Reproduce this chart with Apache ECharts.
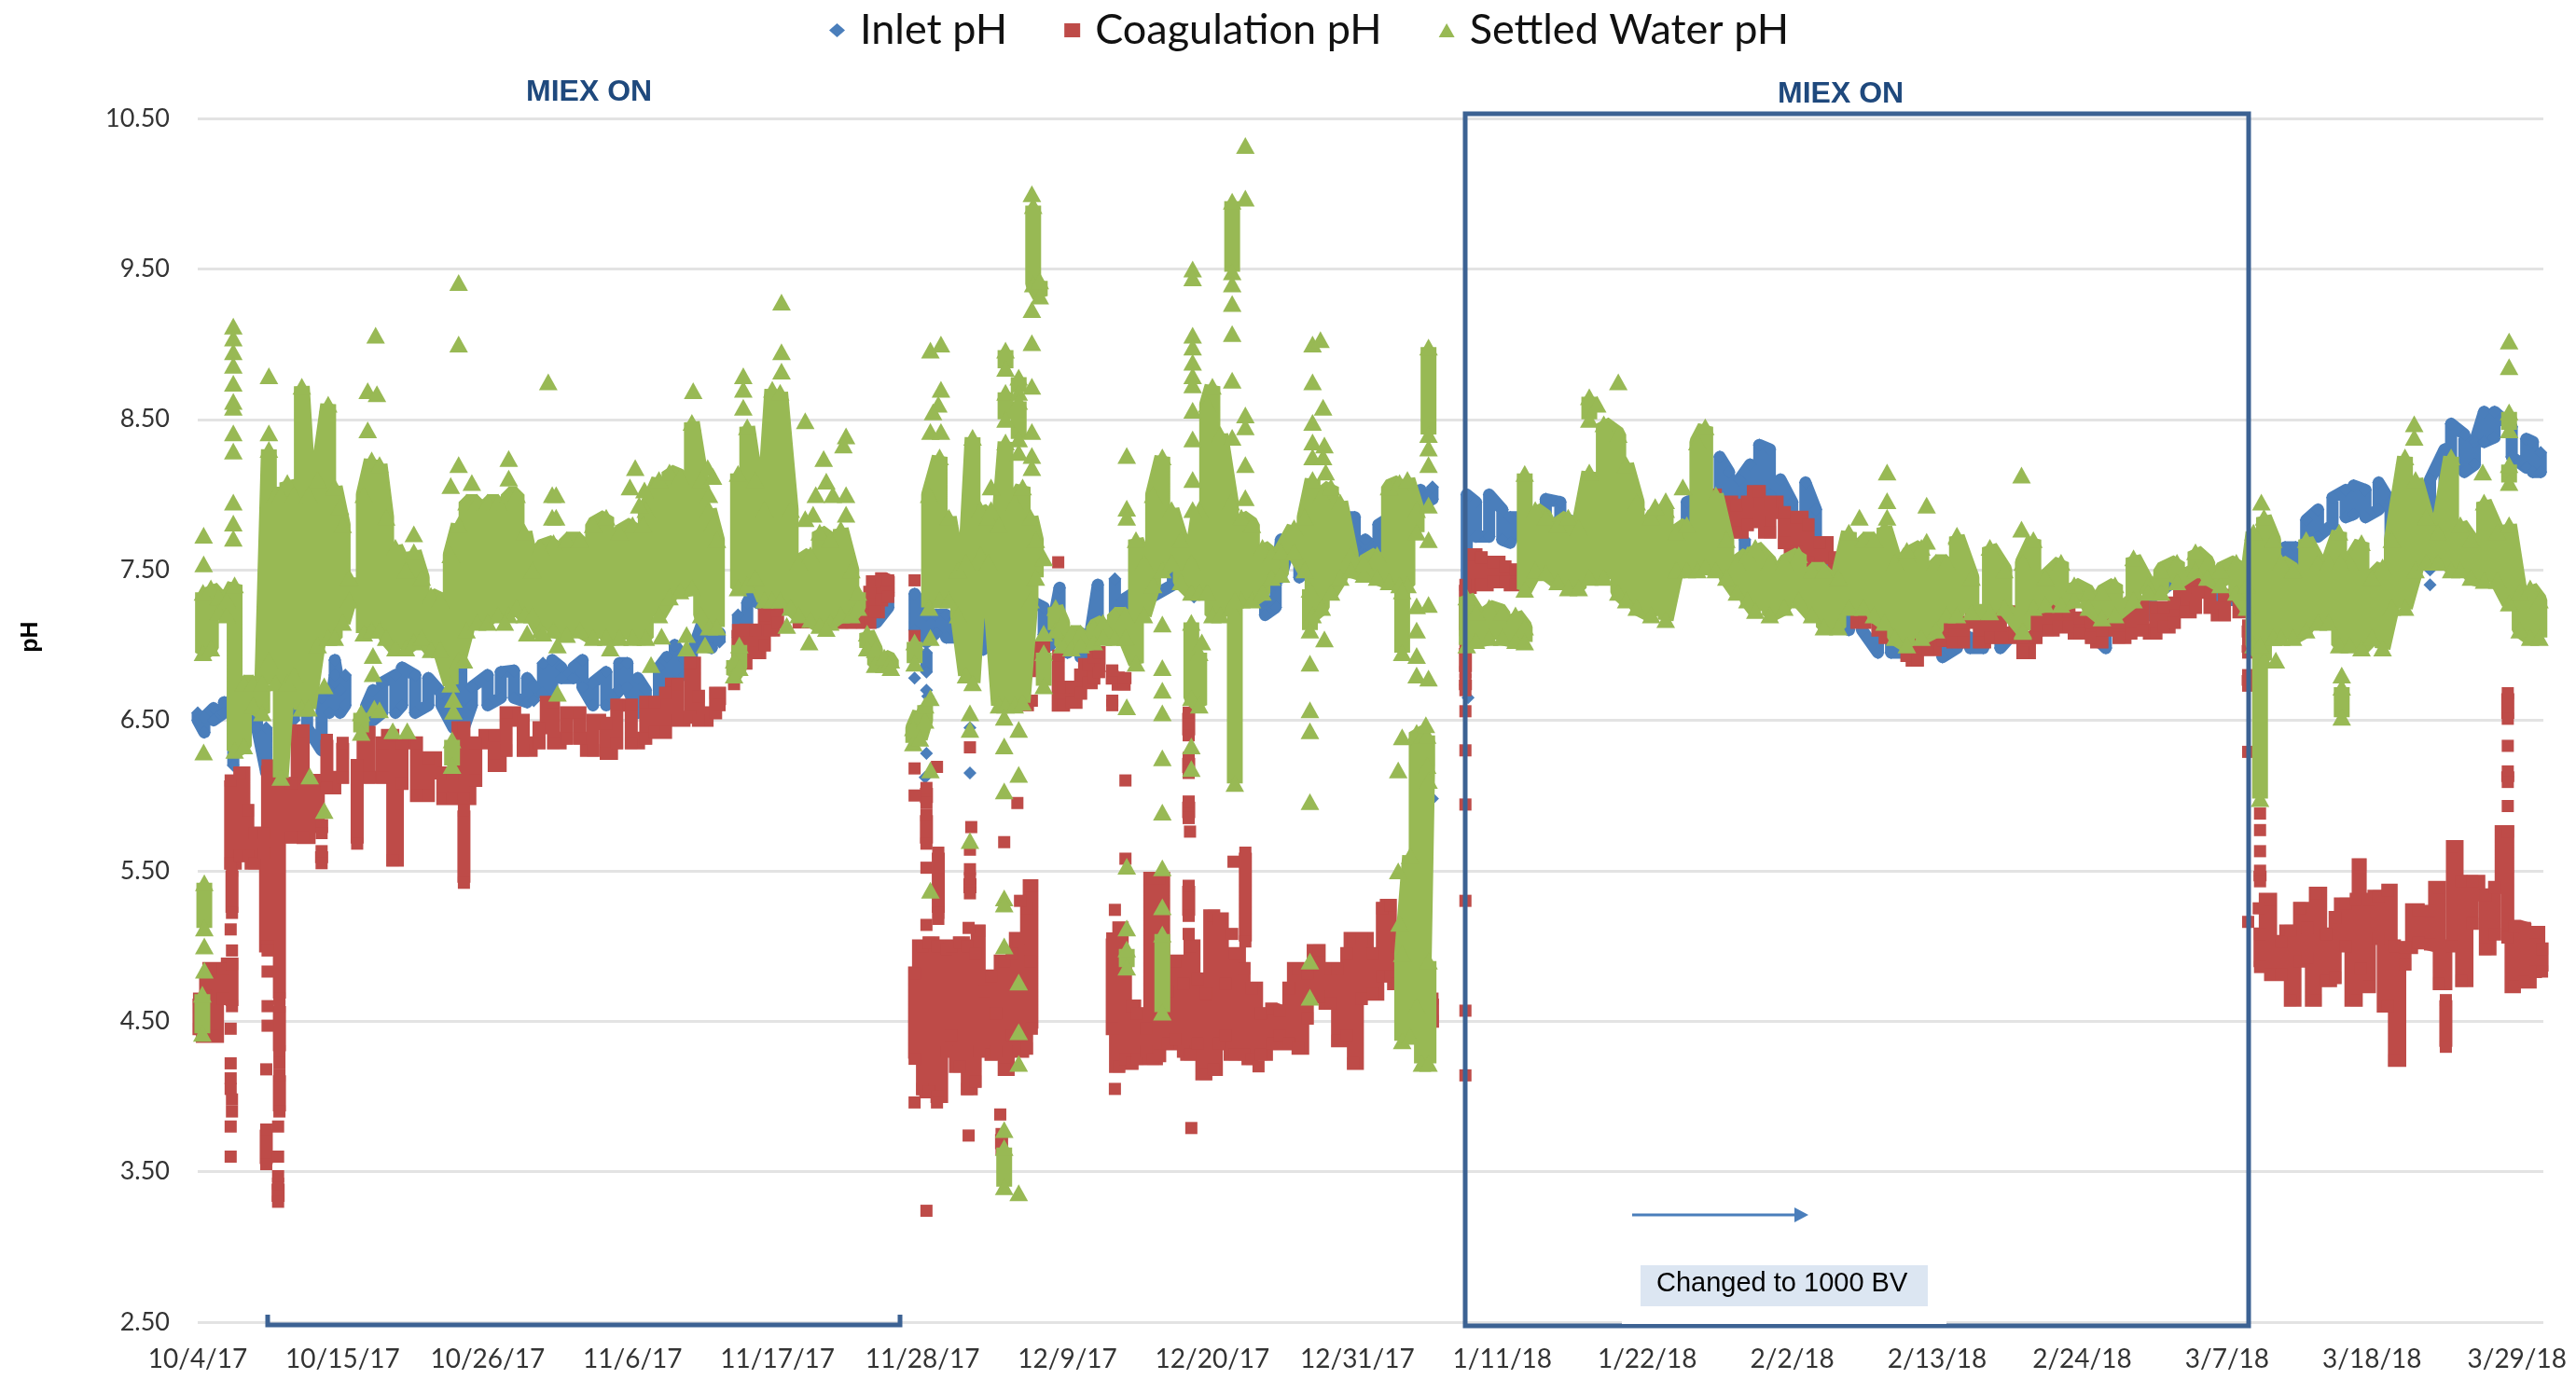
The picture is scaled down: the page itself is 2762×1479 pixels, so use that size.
<!DOCTYPE html>
<html><head><meta charset="utf-8">
<style>html,body{margin:0;padding:0;background:#fff}#c{width:2762px;height:1479px}</style>
<script src="https://cdn.jsdelivr.net/npm/echarts@6/dist/echarts.min.js"></script>
</head><body><div id="c"></div>
<script>
// x values are days since 10/4/17; each band row is [day, high pH, low pH]; null = a gap in the record
const tickLabels = ['10/4/17','10/15/17','10/26/17','11/6/17','11/17/17','11/28/17','12/9/17','12/20/17','12/31/17','1/11/18','1/22/18','2/2/18','2/13/18','2/24/18','3/7/18','3/18/18','3/29/18'];

const inletBands = [
[0,6.55,6.5],[0.5,6.52,6.42],[1.2,6.58,6.5],[2,6.62,6.55],[2.7,6.6,6.2],null,[4.5,6.62,6.45],[5.2,6.45,6.15],null,
[7.3,6.68,6.5],[8.3,6.55,6.45],[9.4,6.65,6.3],[10,6.7,6.55],[10.4,6.9,6.8],[10.8,6.7,6.55],[11.2,6.8,6.6],null,
[12.8,6.6,6.4],[13.3,6.7,6.5],[14,6.75,6.55],[15,6.8,6.55],[15.5,6.85,6.6],[16.5,6.8,6.55],[17.5,6.78,6.6],[18.5,6.68,6.6],[19.4,6.75,6.45],[20,6.85,6.4],[20.8,6.72,6.6],[22,6.8,6.6],[23,6.82,6.65],[24,6.83,6.65],[25,6.78,6.62],[25.5,6.72,6.63],null,
[26.2,6.88,6.68],[26.9,6.9,6.65],[27.6,6.85,6.78],[28.5,6.85,6.78],[29.2,6.9,6.72],[30,6.75,6.6],[31,6.82,6.6],[32,6.88,6.7],[32.6,6.88,6.72],[33.4,6.78,6.55],[34,6.7,6.55],[35,6.85,6.6],[35.6,6.92,6.62],[36.2,7.0,6.75],[37,6.9,6.8],[37.5,6.95,6.9],[38.3,7.15,7.0],[39,7.05,6.98],[39.6,7.08,7.02],null,
[41,7.2,7.05],[41.7,7.28,7.1],[42.5,7.42,7.28],[43,7.35,7.3],[45,7.38,7.3],[47,7.35,7.3],[49,7.3,7.25],[50.5,7.22,7.2],[51.5,7.25,7.15],[52.4,7.35,7.25],null,
[54.4,7.34,7.1],[55.3,7.2,7.02],[56,7.2,7.08],[56.8,7.2,7.05],[58,7.15,7.05],[59.6,7.17,6.97],[60,7.15,7.0],null,
[63.1,7.3,6.95],[64.2,7.25,7.07],[64.7,7.05,7.0],[65.4,7.38,7.05],[66,7.0,6.95],[67,7.08,6.92],[67.6,7.0,6.9],[68.3,7.4,7.1],null,[69.6,7.44,7.15],[70.2,7.3,7.15],[72,7.4,7.3],[74,7.5,7.4],[75.5,7.6,7.55],[77,7.5,7.4],[78.5,7.4,7.4],[80,7.35,7.3],[81,7.3,7.2],[81.8,7.4,7.25],[82.2,7.7,7.45],[83,7.75,7.7],[83.6,7.65,7.45],[85,7.7,7.6],[86.5,7.7,7.6],[87,7.85,7.65],[87.8,7.85,7.65],[88.6,7.7,7.6],[89.2,7.65,7.6],[89.6,7.8,7.6],[90.5,7.85,7.7],[92,8.0,7.85],[92.8,8.03,7.93],[93.7,8.05,7.97],null,
[96.3,8.0,7.3],[97,7.95,7.72],[98,8.0,7.72],[99,7.9,7.7],[99.6,7.85,7.68],[100.5,7.85,7.7],[102.3,7.97,7.85],[103.4,7.95,7.85],[105,7.9,7.8],[108,7.8,7.7],[110,7.78,7.7],[112,7.75,7.7],[113,7.95,7.8],[114.5,8.0,7.9],[115.5,8.25,7.9],[116.2,8.15,7.95],[117,8.1,7.95],[117.8,8.2,8.0],[118.5,8.33,8.0],[119.3,8.3,8.0],[120.1,8.1,7.9],[121,7.95,7.85],[122,8.08,7.8],[122.8,7.9,7.6],[123.6,7.55,7.45],[124.5,7.35,7.3],[125.3,7.25,7.1],[126.3,7.2,7.1],[127.5,7.1,6.95],[128.5,7.05,6.95],[130.5,6.95,6.95],[132.4,7.05,6.92],[133.5,7.05,6.98],[134.5,7.05,6.98],[135.5,7.05,6.98],[136.8,7.05,6.98],[138,7.2,7.1],[140,7.2,7.1],[142,7.2,7.15],[144,7.1,7.05],[144.8,7.1,6.98],[146,7.2,7.1],[148,7.3,7.2],[150.4,7.45,7.3],[151.6,7.5,7.35],[153,7.4,7.3],[155,7.35,7.3],null,
[156.5,7.6,7.45],[157.5,7.7,7.5],[158.4,7.65,7.48],[159.2,7.65,7.45],[160,7.83,7.6],[160.9,7.9,7.72],[162,7.98,7.8],[163,8.03,7.85],[163.6,8.06,7.87],[164.5,8.03,7.85],[165.5,8.08,7.9],[166.4,7.95,7.7],[167,7.9,7.7],[168.5,8.0,7.8],[169.4,8.1,7.6],[170.5,8.3,7.9],[171,8.47,8.05],[172,8.4,8.15],[172.8,8.35,8.2],[173.5,8.55,8.35],[174.3,8.55,8.38],[175.6,8.45,8.25],[176.7,8.37,8.18],[177.2,8.35,8.15],[177.8,8.28,8.15],null,
[55.3,6.95,6.82],null,[117.4,7.7,7.6]
];
const inletSpots = [[54.4,6.78],[55.3,6.7],[55.4,6.66],[55.3,6.28],[55.2,6.12],[58.6,6.45],[58.6,6.15],[93.7,5.98],[96.4,6.65],[117.4,7.4],[162.6,7.0],[169.4,7.4],[169.4,7.5],[45.3,7.48],[75.6,7.32]];

const coagBands = [
[0.1,4.65,4.45],[0.6,4.75,4.4],[1.1,4.85,4.4],[1.9,4.85,4.65],[2.6,4.88,4.6],null,
[2.6,5.5,5.22],null,
[2.5,6.1,5.55],[3.2,6.15,5.6],[3.8,5.9,5.6],[4.3,5.75,5.55],[5,5.75,5.62],[5.3,6.2,5.0],null,
[5.2,3.78,3.55],null,
[6.2,6.1,4.65],null,[6.2,4.6,4.3],null,[6.2,4.14,3.9],null,[6.1,3.42,3.3],null,
[7.1,6.08,5.72],[8,6.43,5.72],[8.9,6.1,5.8],[9.4,5.8,5.75],null,[9.4,5.63,5.55],null,[9.8,6.37,6.05],[11,6.35,6.12],null,
[12.1,6.2,5.68],[13,6.42,6.12],[14,6.35,6.12],[14.8,6.4,5.57],[15.5,6.35,6.08],[16.6,6.35,6.0],[17.5,6.25,6.0],[18.6,6.15,5.98],[19.3,6.15,5.98],[20.2,6.45,5.98],[21.1,6.35,6.1],[22.5,6.4,6.2],[23.4,6.55,6.3],[24.7,6.5,6.3],[25.9,6.45,6.35],[27,6.62,6.35],[28,6.55,6.38],[29,6.55,6.38],[30,6.5,6.3],[31,6.48,6.28],[31.8,6.6,6.35],[32.9,6.6,6.35],[34,6.62,6.38],[34.7,6.62,6.42],[35.5,6.68,6.42],[36.4,6.74,6.5],[37.4,6.88,6.52],[38,6.66,6.5],[39.3,6.68,6.55],[39.6,6.68,6.6],null,
[20.2,5.9,5.42],null,
[41,7.1,6.9],[41.6,7.1,6.88],[42.3,7.1,6.95],[43,7.2,7.0],[43.4,7.27,7.1],[44,7.28,7.15],null,
[45.6,7.22,7.15],[46.5,7.22,7.15],null,
[48.9,7.2,7.15],[49.6,7.22,7.15],[50.4,7.28,7.15],[51,7.35,7.15],[51.4,7.42,7.22],[51.9,7.44,7.3],[52.4,7.43,7.32],null,
[62.9,6.98,6.83],[63.5,6.98,6.83],[64.2,6.98,6.83],null,
[65.3,6.93,6.6],[65.7,6.72,6.6],[66.3,6.72,6.62],[67,6.8,6.68],[67.6,6.87,6.75],[68,6.92,6.78],[68.4,6.95,6.82],null,[69.4,6.83,6.78],[70.3,6.78,6.74],null,
[54.4,4.82,4.25],[55,5.0,4.05],[55.5,5.02,4.03],[56.1,5.0,4.0],[56.8,4.98,4.3],[57.2,5.0,4.4],[57.8,5.02,4.2],[58.4,5.0,4.05],[59,4.95,4.1],[59.3,5.1,4.3],[59.7,4.7,4.3],[60.2,4.8,4.28],[60.6,4.55,4.3],[61.2,4.9,4.18],[61.8,4.95,4.4],[62.3,5.05,4.3],[62.9,5.25,4.32],[63.3,5.4,4.45],null,
[69.4,5.05,4.45],[69.9,5.12,4.2],[70.4,4.9,4.25],[70.9,4.6,4.22],[71.3,4.55,4.25],[72,4.45,4.3],[72.5,5.45,4.25],[73,5.45,4.27],[73.6,4.7,4.35],[74.2,4.9,4.38],[74.8,4.75,4.3],[75.3,5.0,4.28],[75.9,4.78,4.35],[76.5,4.68,4.15],[77.1,5.2,4.18],[77.5,5.18,4.35],[78,4.75,4.4],[78.7,4.95,4.28],[79.4,4.85,4.28],[80,4.72,4.25],[80.7,4.55,4.28],[81.5,4.58,4.35],[82.1,4.57,4.4],[82.8,4.72,4.35],[83.5,4.85,4.32],[84.2,4.82,4.52],[85.1,4.97,4.66],[86,4.85,4.62],[86.5,4.85,4.37],[87.2,4.95,4.4],[87.7,5.05,4.22],[88.3,5.05,4.65],[89.2,4.95,4.68],[89.9,5.25,4.8],[90.5,5.27,4.8],[91,5.0,4.75],[92,4.9,4.7],[93.7,4.65,4.5],null,
[55.3,6.05,5.95],null,[55.3,5.87,5.68],null,[56.2,5.62,5.22],null,[58.6,5.45,5.35],null,[63.2,5.4,4.9],null,[61,3.75,3.65],null,[75.2,6.55,6.4],null,[75.2,6.25,6.15],null,[75.2,5.96,5.85],null,[75.2,5.4,5.2],null,[79.5,5.62,5.03],null,
[96.6,7.6,7.38],[97.4,7.58,7.4],[98.3,7.55,7.42],[99.2,7.52,7.42],[100,7.5,7.4],[100.9,7.45,7.42],null,
[96.2,7.4,7.1],null,[96.2,6.98,6.82],null,[96.2,6.77,6.7],null,
[115.2,8.0,7.75],[116,7.95,7.75],[116.8,7.93,7.75],[117.6,7.95,7.8],[118.5,8.02,7.82],[119.3,7.95,7.75],[120.4,7.88,7.68],[121.3,7.85,7.62],[122.2,7.8,7.55],[123.1,7.68,7.5],[124.2,7.58,7.47],null,
[125.3,7.35,7.25],[126.5,7.25,7.15],[127.5,7.3,7.1],[128.6,7.2,7.05],[129.7,7.05,6.93],[130.5,7.03,6.9],[131.3,7.08,6.97],[132.4,7.12,7.03],[133.2,7.15,7.02],[134,7.15,7.02],[135.2,7.2,7.02],[136,7.2,7.05],[136.8,7.2,7.05],[137.9,7.22,7.08],[138.5,7.05,6.95],[139.5,7.25,7.05],[140.4,7.25,7.1],[141.2,7.25,7.12],[142,7.22,7.12],[142.8,7.18,7.08],[143.7,7.15,7.05],[144.5,7.1,7.02],[145.8,7.15,7.05],[146.7,7.28,7.08],[147.6,7.28,7.1],[148.6,7.25,7.08],[149.2,7.25,7.12],[150,7.28,7.15],[150.8,7.38,7.22],[151.6,7.43,7.25],[152.7,7.35,7.25],[153.8,7.33,7.2],[154.9,7.33,7.22],[155.7,7.3,7.25],null,
[155.6,7.13,7.05],null,[155.6,7.0,6.95],null,[155.6,6.8,6.73],null,
[156.5,5.08,4.86],[157.3,5.31,4.81],[158.1,5.03,4.81],[158.8,5.1,4.64],[159.5,5.25,4.9],[160.1,5.12,4.92],[160.7,5.35,4.64],[161.5,5.08,4.77],[162.2,5.19,4.79],[163,5.28,5.0],[163.8,5.31,4.64],[164.1,5.54,4.85],[164.8,5.31,4.73],[165.5,5.33,5.05],[166.2,5.37,4.6],[166.7,5.0,4.24],[167.5,4.99,4.88],[168.5,5.24,5.02],[169.4,5.23,5.01],[170.1,5.39,4.75],[171.1,5.66,5.0],[171.8,5.43,4.77],[172.6,5.43,5.15],[173.6,5.34,4.98],[174.3,5.39,5.08],[175.3,5.76,5.06],[175.8,5.13,4.73],[176.6,5.12,4.76],[177.4,5.09,4.83],[177.9,4.98,4.83],null,
[170.6,4.64,4.33],null,[175.3,6.68,6.51],null,[175.3,6.16,6.09],null,[156.5,5.5,5.43]
];
const coagSpots = [[2.5,5.11],[2.6,4.97],[2.5,4.45],[2.5,4.22],[2.5,4.12],[2.5,4.05],[2.6,3.98],[2.6,3.9],[2.5,3.8],[2.5,3.6],[5.3,4.97],[5.3,4.83],[5.3,4.6],[5.3,4.47],[5.2,4.18],[6.2,4.22],[6.1,3.8],[6.1,3.6],[6.1,3.47],
[40.7,6.74],[54.4,7.43],[54.4,7.06],[65.3,7.55],[63,6.6],[69.4,6.6],[54.4,6.18],[56.1,6.19],[54.4,6.0],[55.3,5.52],[55.3,5.14],[56.2,5.18],[58.6,6.32],[58.7,5.79],[58.6,5.64],[58.6,5.51],[58.5,5.12],[61.2,5.69],[62.2,5.95],[62.4,5.3],[54.4,3.96],[56.1,3.96],[58.5,3.74],[60.9,3.88],[55.3,3.24],[70.4,6.1],[70.4,5.58],[69.6,5.24],[69.6,4.05],[75.3,5.76],[75.2,5.08],[75.4,3.79],[78.5,5.08],[78.6,5.56],[80.5,4.2],[63.3,6.63],[69.4,6.63],[69.4,6.83],[70.4,6.78],
[96.2,6.56],[96.2,6.3],[96.2,5.94],[96.2,5.3],[96.2,4.57],[96.2,4.14],[155.6,6.77],[155.6,6.29],[155.6,5.16],[156.5,5.88],[156.5,5.77],[156.5,5.63],[156.4,5.25],[175.3,6.33],[175.3,5.93]];

const settledBands = [
[0.4,7.35,6.95],[1,7.38,6.98],[1.6,7.32,7.22],[2.2,7.3,7.2],[2.8,7.4,6.3],[3.5,6.75,6.33],[4.2,6.75,6.6],[4.9,6.75,6.55],[5.4,8.3,6.9],[5.9,8.0,6.75],[6.3,8.0,6.12],[6.8,8.08,6.75],[7.3,8.0,6.8],[7.9,8.72,6.58],[8.4,8.0,6.58],[9.1,8.1,7.0],[9.9,8.6,7.05],[10.4,8.05,7.05],[11,7.8,7.15],[11.5,7.45,7.3],null,
[12.6,8.0,7.08],[13.2,8.23,7.1],[13.8,8.2,7.1],[14.3,7.85,7.05],[15,7.65,6.98],[15.8,7.5,6.98],[16.4,7.62,7.02],[17,7.45,7.05],[17.7,7.33,6.97],[18.4,7.3,6.97],[19.2,7.6,6.74],[19.8,7.8,6.9],[20.4,7.95,7.1],[21.2,7.95,7.15],[22,7.95,7.15],[22.8,7.95,7.2],[23.6,8.0,7.2],[24.2,8.0,7.25],[24.8,7.75,7.2],[25.4,7.5,7.2],[26,7.65,7.1],[27,7.68,7.1],[28,7.7,7.07],[29,7.7,7.1],[30,7.8,7.05],[31,7.85,7.05],[32,7.75,7.05],[33,7.8,7.05],[34,7.9,7.05],[35,8.1,7.2],[35.8,8.15,7.32],[36.6,8.12,7.36],[37.5,8.48,7.38],[38.2,8.1,7.2],[38.8,7.9,7.12],[39.4,7.7,7.12],null,
[41,8.14,7.38],[41.7,8.45,7.4],[42.3,8.1,7.45],[43,7.9,7.3],[43.6,8.7,7.3],[44.2,8.68,7.3],[45,7.9,7.25],[45.6,7.55,7.2],[46.5,7.6,7.17],[47.2,7.75,7.13],[48,7.7,7.15],[48.8,7.77,7.2],[49.6,7.5,7.2],[50.1,7.35,7.25],null,
[50.8,7.08,6.98],[51.4,6.97,6.87],[52.1,6.92,6.87],[52.6,6.9,6.85],null,
[40.7,6.9,6.8],[41.1,7.0,6.85],null,
[54.4,7.02,6.88],null,[54.3,6.45,6.35],[54.8,6.55,6.38],[55.2,6.6,6.5],null,
[0.5,5.42,5.12],null,[0.35,4.68,4.42],null,[12.4,6.55,6.42],null,[19.3,6.37,6.2],null,
[55.5,8.0,7.25],[56.3,8.25,7.3],[57,7.85,7.3],[57.7,7.5,7.2],[58.3,7.55,6.8],[58.8,8.38,6.75],[59.4,7.9,7.6],[60,7.85,7.55],[60.8,7.8,6.6],[61.3,8.35,6.6],[62,7.95,6.6],[62.6,8.05,6.62],[63.2,7.85,7.3],[63.6,7.7,7.45],null,
[63.4,9.92,9.4],[63.9,9.42,9.32],null,[61.3,8.96,8.84],null,[61.3,8.68,8.5],null,[62.3,8.78,8.68],null,[62.3,8.62,8.37],null,[64.2,6.95,6.73],null,[61.2,3.66,3.4],null,[70.5,4.98,4.86],null,
[65.1,7.25,7.1],[65.6,7.15,7.0],[66.3,7.08,6.98],[67,7.08,7.0],[68,7.12,7.02],[68.7,7.15,7.05],[69.6,7.2,7.05],[70.4,7.2,7.05],[71.2,7.7,6.88],[71.8,7.55,7.2],[72.5,8.0,7.4],[73.2,8.25,7.5],[73.9,7.9,7.55],[74.6,7.7,7.42],[75.4,7.55,7.35],[76,7.9,7.35],[76.6,8.6,7.35],[77,8.72,7.2],[77.6,8.4,7.2],[78.4,7.95,7.25],[79.2,7.85,7.3],[80,7.8,7.3],[80.8,7.65,7.35],[81.5,7.6,7.45],[82.2,7.62,7.47],[83.2,7.78,7.62],[84,7.85,7.5],[84.6,8.1,7.2],[85.3,8.0,7.25],[86,8.05,7.35],[86.7,7.95,7.45],[87.5,7.6,7.5],[88.5,7.55,7.47],[89.5,7.6,7.45],[90.4,8.05,7.42],[91.2,8.08,7.4],[91.8,8.1,7.4],[92.5,7.9,7.75],null,
[73.2,5.08,4.56],null,[75.4,7.15,6.65],[76,6.95,6.6],null,[78.5,9.95,9.48],null,[78.7,7.3,6.08],null,[84.4,7.37,7.1],null,[91.4,7.36,6.95],null,[93.4,8.98,8.4],null,
[91.4,4.95,4.37],[92,5.6,4.4],[92.5,6.42,4.6],[92.9,6.4,4.22],[93.3,6.4,6.2],null,[93.4,4.9,4.22],null,
[96.3,7.32,7.0],[97,7.22,7.03],[98,7.25,7.05],[99,7.22,7.05],[100,7.2,7.03],[100.7,7.12,7.02],null,
[100.7,8.14,7.37],[101.5,7.9,7.5],[102.3,7.85,7.48],[103.2,7.8,7.42],[104,7.85,7.38],[104.8,7.78,7.38],[105.6,8.15,7.45],[106.7,8.47,7.45],[107.8,8.4,7.35],[108.4,8.2,7.3],[109.2,7.95,7.25],[110.3,7.85,7.2],[111.4,7.9,7.17],[112.2,7.75,7.5],[113,7.8,7.5],[113.8,8.35,7.5],[114.4,8.45,7.52],[115.2,8.0,7.5],[116,7.7,7.45],[116.8,7.55,7.35],[117.6,7.6,7.3],[118.2,7.65,7.23],[119.3,7.55,7.2],[120.4,7.55,7.25],[121.5,7.6,7.3],[122.5,7.5,7.2],[123.4,7.5,7.12],[124.5,7.45,7.12],[125.3,7.75,7.25],[126.4,7.7,7.25],[127.2,7.7,7.2],[128,7.78,7.15],[128.8,7.55,7.05],[129.7,7.6,7.0],[130.8,7.65,7.05],[131.9,7.55,7.1],[132.7,7.55,7.2],[133.5,7.72,7.2],[134.6,7.45,7.22],[136,7.65,7.22],[137.1,7.5,7.25],[138.5,7.55,7.1],[139.3,7.7,7.25],[140.2,7.45,7.27],[141.4,7.55,7.27],[142.4,7.4,7.3],[143.5,7.35,7.25],[144.5,7.35,7.18],[145.5,7.4,7.2],[146.9,7.58,7.3],[148,7.4,7.35],[149,7.5,7.35],[150.2,7.55,7.42],[151.6,7.62,7.5],[152.5,7.55,7.45],[153.5,7.5,7.4],[154.7,7.55,7.35],[155.5,7.4,7.25],[156,7.75,7.0],[156.8,7.85,6.9],[157.5,7.7,7.05],[158.1,7.55,7.05],[159,7.5,7.05],[160,7.7,7.1],[160.9,7.55,7.15],[161.7,7.55,7.15],[162.5,7.75,7.0],[163.3,7.55,7.0],[164.2,7.68,6.98],[165,7.45,7.05],[165.8,7.52,6.98],[166.5,7.7,7.25],[167.5,8.25,7.25],[168.3,8.1,7.5],[169.1,7.85,7.55],[170,7.75,7.55],[171,8.25,7.5],[171.7,7.8,7.5],[172.5,7.7,7.45],[173.5,7.95,7.43],[174.5,7.75,7.43],[175.4,7.8,7.28],[176.2,7.35,7.1],[177,7.38,7.05],[177.7,7.3,7.05],null,
[105.6,8.65,8.5],null,[156.5,7.0,5.98],null,[162.7,6.72,6.52],null,[175.4,8.55,8.43],null,[175.4,8.2,8.08]
];
const settledSpots = [
[0.45,7.73],[0.45,7.54],[0.45,6.29],[0.5,5.0],[0.5,4.84],[2.7,9.12],[2.7,9.04],[2.7,8.95],[2.7,8.86],[2.7,8.74],[2.7,8.62],[2.7,8.58],[2.7,8.41],[2.7,8.29],[2.7,7.95],[2.7,7.81],[2.7,7.71],[5.4,8.79],[5.4,8.41],[10.8,7.92],[13.5,9.06],[12.9,8.69],[13.6,8.67],[12.9,8.43],[16.4,7.74],[19.8,9.41],[19.8,9.0],[19.8,8.2],[20.8,8.08],[19.2,8.06],[23.6,8.24],[23.6,8.11],[26.6,8.75],[26.9,8.0],[27.2,8.0],[26.9,7.85],[27.2,7.85],[25,7.08],[26.2,7.08],[27.3,7.0],[31.3,6.98],[34.4,6.87],[23.3,7.15],[33.2,8.18],[32.8,8.05],[33.9,8.03],[33.5,7.93],[33.8,7.8],[9.6,6.73],[13.3,6.93],[13.3,6.81],[13.4,6.58],[14.8,6.43],[19.4,6.64],[19.4,6.56],[20.2,6.9],[27.3,6.68],[8.5,6.13],[9.6,5.9],[13.8,6.57],[15.9,6.43],
[37.6,8.69],[41.4,8.79],[41.4,8.7],[41.4,8.58],[44.3,9.28],[44.3,8.95],[44.3,8.82],[46.1,8.49],[49.2,8.39],[49,8.33],[47.5,8.24],[47.7,8.09],[46.9,8.0],[48.2,8.0],[49.2,8.0],[49.2,7.87],[46.1,7.84],[46.7,7.87],[38.7,8.18],[39.1,8.12],[38.8,8.0],[39.1,7.81],[35.2,7.06],[37.1,7.07],[37.1,6.98],[38.5,7.0],[47.7,7.11],[46.4,7.02],[44.7,7.13],
[55.6,8.96],[56.4,9.0],[56.4,8.7],[56.2,8.6],[55.8,8.55],[55.6,8.42],[56.4,8.42],[60.2,8.05],[60.2,7.9],[63.3,10.0],[63.3,9.23],[63.3,9.01],[63.3,8.72],[63.3,8.42],[63.3,8.26],[63.3,8.18],[64.2,7.58],[62.3,8.28],[64.2,7.08],[55.6,7.05],[58.6,6.55],[58.6,6.44],[61.2,6.52],[61.2,6.33],[61.2,6.03],[62.3,6.44],[62.3,6.14],[55.6,6.17],[55.6,5.37],[58.6,5.7],[61.2,5.32],[61.2,5.28],[61.2,5.0],[62.3,4.76],[62.3,4.43],[62.3,4.22],[61.2,3.78],[62.3,3.36],
[70.5,8.26],[70.5,7.91],[70.5,7.85],[73.2,7.14],[73.2,6.85],[73.2,6.7],[73.2,6.55],[73.2,6.25],[73.2,5.89],[73.2,5.52],[73.2,5.26],[70.5,6.59],[70.5,5.53],[70.5,5.12],[75.5,9.5],[75.5,9.44],[75.5,9.06],[75.5,8.98],[75.5,8.88],[75.5,8.79],[75.5,8.73],[75.5,8.56],[75.5,8.37],[75.5,8.1],[75.5,7.9],[75.4,6.33],[75.4,6.18],[78.5,9.4],[78.5,9.27],[78.5,9.07],[78.5,8.76],[78.5,8.38],[79.5,10.32],[79.5,9.97],[79.5,8.53],[79.5,8.45],[79.5,8.2],[79.5,7.98],[76.2,7.02],
[84.6,9.0],[85.2,9.03],[84.6,8.75],[85.4,8.58],[84.6,8.48],[84.6,8.35],[85.5,8.33],[84.6,8.25],[85.4,8.25],[85.6,8.15],[84.4,6.88],[84.4,6.57],[84.4,6.43],[84.4,5.96],[84.4,4.9],[84.4,4.66],[85.5,7.04],[92.5,7.26],[92.5,7.1],[92.5,6.93],[92.5,6.8],[93.4,7.27],[93.4,6.78],[93.4,8.31],[93.4,8.2],[93.4,7.93],[93.4,7.7],[91.4,6.39],[91.1,6.17],[93.4,6.1],[93.2,6.47],[91.1,5.5],[91.2,5.15],[55.6,6.65],
[106.2,8.6],[107.8,8.75],[112.7,8.05],[111.4,7.96],[110.6,7.92],[128.2,8.15],[128.2,7.96],[128.2,7.85],[126.1,7.85],[131.2,7.93],[131.2,7.69],[129.7,7.63],[133.5,7.73],[138.4,8.13],[138.4,7.77],[138.5,7.09],[156.6,7.95],[157.7,6.9],[162.7,6.8],[168.2,8.47],[168.2,8.38],[175.4,9.02],[175.4,8.85],[173.4,8.15],[162.6,7.55]
];

// each band row is one up-and-down run of readings; rows alternate direction so the trace stays continuous
const trace = rows => rows.flatMap((r, i) => {
  if (!r) return [[null, null]];
  return i % 2 ? [[r[0], r[2]], [r[0], r[1]]] : [[r[0], r[1]], [r[0], r[2]]];
});
const blue = '#4A7EBB', red = '#BE4B48', green = '#98B954', ink = '#3C6293';
const font = 'Lato';

function pair(name, color, symbol, size, width, z, look, bands, spots) {
  return [
    { name, type: 'line', z, data: trace(bands), symbol, symbolSize: size, showAllSymbol: true, connectNulls: false, clip: false, step: look.step,
      lineStyle: { color, width, join: look.join, cap: 'butt' }, itemStyle: { color, opacity: 1 }, silent: true, animation: false, emphasis: { disabled: true } },
    { name, type: 'scatter', z: z + 1, data: spots, symbol, symbolSize: size, clip: false, itemStyle: { color, opacity: 1 }, silent: true, animation: false, emphasis: { disabled: true } }
  ];
}

const chart = echarts.init(document.getElementById('c'), null, { renderer: 'canvas' });
chart.setOption({
  animation: false,
  backgroundColor: '#fff',
  grid: { left: 212, right: 35, top: 127, bottom: 61, containLabel: false },
  legend: {
    left: 884, top: 5, itemWidth: 17, itemHeight: 15, itemGap: 61, selectedMode: false,
    textStyle: { fontFamily: font, fontSize: 45, color: '#111', padding: [0, 0, 0, 11] },
    data: [{ name: 'Inlet pH', icon: 'diamond' }, { name: 'Coagulation pH', icon: 'rect' }, { name: 'Settled Water pH', icon: 'triangle' }]
  },
  xAxis: {
    type: 'value', min: 0, max: 178, interval: 11,
    axisLine: { show: false }, axisTick: { show: false }, splitLine: { show: false },
    axisLabel: { fontFamily: font, fontSize: 28, color: '#333', margin: 26, showMaxLabel: false, showMinLabel: true,
      formatter: v => (v % 11 === 0 ? tickLabels[v / 11] : '') }
  },
  yAxis: {
    type: 'value', min: 2.5, max: 10.5, interval: 0.5,
    axisLine: { show: false }, axisTick: { show: false },
    splitLine: { show: true, showMinLine: true, showMaxLine: true, lineStyle: { color: ['#e3e3e3', 'rgba(0,0,0,0)'], width: 3 } },
    axisLabel: { fontFamily: font, fontSize: 27, color: '#333', margin: 30, showMinLabel: true, showMaxLabel: true,
      formatter: v => (v % 1 === 0.5 ? v.toFixed(2) : '') }
  },
  series: [
    ...pair('Inlet pH', blue, 'diamond', 14, 13, 2, { step: false, join: 'round' }, inletBands, inletSpots),
    ...pair('Coagulation pH', red, 'rect', 13, 14, 4, { step: 'middle', join: 'miter' }, coagBands, coagSpots),
    ...pair('Settled Water pH', green, 'triangle', [20, 18], 17, 6, { step: false, join: 'bevel' }, settledBands, settledSpots)
  ],
  graphic: [
    { type: 'text', x: 33, y: 683, rotation: Math.PI / 2, z: 20, style: { text: 'pH', align: 'center', verticalAlign: 'middle', fontFamily: 'Liberation Sans', fontWeight: 'bold', fontSize: 25, fill: '#000' } },
    { type: 'text', left: 564, top: 83, z: 20, style: { text: 'MIEX ON', fontFamily: 'Liberation Sans', fontWeight: 'bold', fontSize: 32, fill: '#1F497D' } },
    { type: 'text', left: 1906, top: 85, z: 20, style: { text: 'MIEX ON', fontFamily: 'Liberation Sans', fontWeight: 'bold', fontSize: 32, fill: '#1F497D' } },
    { type: 'rect', z: 20, shape: { x: 1571, y: 122, width: 840, height: 1300 }, style: { fill: 'none', stroke: ink, lineWidth: 5 } },
    { type: 'rect', z: 21, shape: { x: 1739, y: 1395, width: 348, height: 25 }, style: { fill: '#fff' } },
    { type: 'rect', z: 22, shape: { x: 1759, y: 1357, width: 308, height: 44 }, style: { fill: '#DCE6F2' } },
    { type: 'text', z: 23, left: 1776, top: 1362, style: { text: 'Changed to 1000 BV', fontFamily: 'Liberation Sans', fontSize: 29, fill: '#000' } },
    { type: 'polyline', z: 20, shape: { points: [[287, 1410], [287, 1421], [965, 1421], [965, 1410]] }, style: { fill: 'none', stroke: ink, lineWidth: 5 } },
    { type: 'line', z: 20, shape: { x1: 1750, y1: 1303, x2: 1926, y2: 1303 }, style: { stroke: blue, lineWidth: 3 } },
    { type: 'polygon', z: 20, shape: { points: [[1924, 1295], [1939, 1303], [1924, 1311]] }, style: { fill: blue } }
  ]
});
</script></body></html>
